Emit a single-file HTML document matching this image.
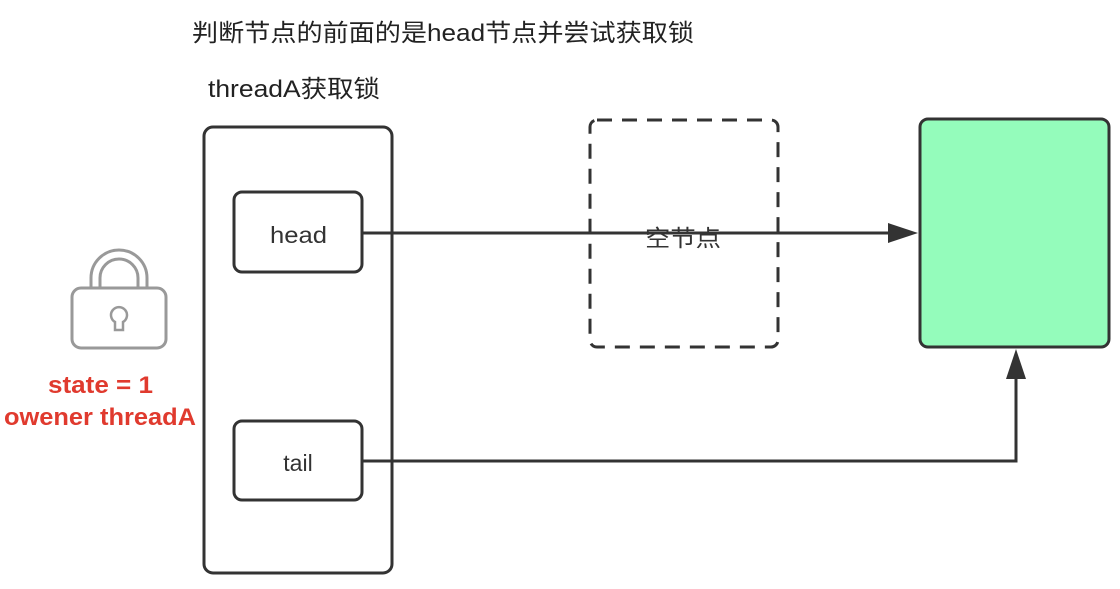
<!DOCTYPE html>
<html><head><meta charset="utf-8"><style>
html,body{margin:0;padding:0;background:#fff;}
svg text{font-family:"Liberation Sans","Noto Sans CJK SC",sans-serif;}
</style></head><body>
<svg width="1120" height="584" viewBox="0 0 1120 584" xmlns="http://www.w3.org/2000/svg">
<text x="192" y="41" font-size="24" fill="#222" textLength="502" lengthAdjust="spacingAndGlyphs">判断节点的前面的是head节点并尝试获取锁</text>
<text x="208" y="97" font-size="24" fill="#222" textLength="172" lengthAdjust="spacingAndGlyphs">threadA获取锁</text>
<rect x="204" y="127" width="188" height="446" rx="9" fill="#fff" stroke="#333" stroke-width="3"/>
<rect x="234" y="192" width="128" height="80" rx="8" fill="#fff" stroke="#333" stroke-width="3"/>
<text x="270" y="243" font-size="23" fill="#333" textLength="57" lengthAdjust="spacingAndGlyphs">head</text>
<rect x="234" y="421" width="128" height="79" rx="8" fill="#fff" stroke="#333" stroke-width="3"/>
<text x="298" y="471" font-size="23" fill="#333" text-anchor="middle">tail</text>
<rect x="590" y="120" width="188" height="227" rx="7" fill="none" stroke="#333" stroke-width="3" stroke-dasharray="15,10"/>
<text x="645" y="246" font-size="23" fill="#333" textLength="76" lengthAdjust="spacingAndGlyphs">空节点</text>
<rect x="920" y="119" width="189" height="228" rx="8" fill="#94fcbb" stroke="#333" stroke-width="3"/>
<line x1="362" y1="233" x2="892" y2="233" stroke="#333" stroke-width="3"/>
<polygon points="918,233 888,223 888,243" fill="#333"/>
<polyline points="362,461 1016,461 1016,375" fill="none" stroke="#333" stroke-width="3"/>
<polygon points="1016,349 1006,379 1026,379" fill="#333"/>
<g fill="none" stroke="#999" stroke-width="3">
<path d="M91,287 V278 a28,28 0 0 1 56,0 V287"/>
<path d="M100,287 V278 a19,19 0 0 1 38,0 V287"/>
<rect x="72" y="288" width="94" height="60" rx="9"/>
<path d="M115,322 v8 h8 v-8 a8,8 0 1 0 -8,0 z" stroke-width="2.5"/>
</g>
<text x="48" y="393" font-size="24" font-weight="bold" fill="#e03a2e" textLength="105" lengthAdjust="spacingAndGlyphs">state = 1</text>
<text x="4" y="425" font-size="24" font-weight="bold" fill="#e03a2e" textLength="192" lengthAdjust="spacingAndGlyphs">owener threadA</text>
</svg>
</body></html>
